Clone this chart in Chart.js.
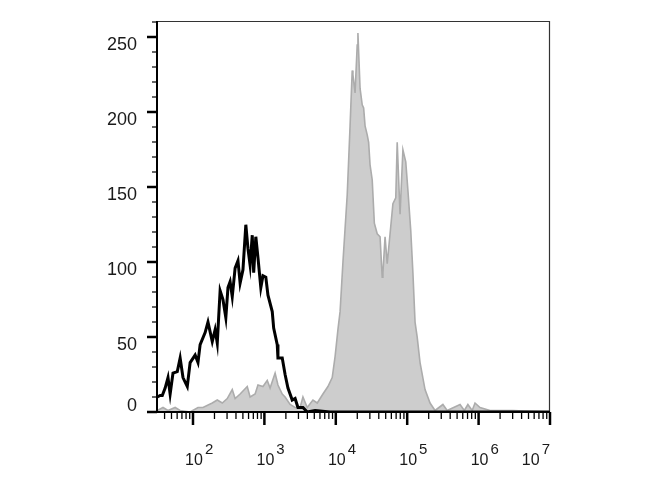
<!DOCTYPE html>
<html>
<head>
<meta charset="utf-8">
<script src="https://cdn.jsdelivr.net/npm/chart.js@4/dist/chart.umd.min.js"></script>
<style>
html,body{margin:0;padding:0;background:#fff}
#wrap{width:670px;height:500px;position:relative}
</style>
</head>
<body>
<div id="wrap"><canvas id="c"></canvas></div>
<script>
// Control (black line): x in log10(fluorescence intensity), y = count
const controlLogX = [1.50,1.54,1.57,1.61,1.65,1.68,1.72,1.78,1.82,1.86,1.92,1.96,2.03,2.07,2.10,2.17,2.21,2.27,2.31,2.34,2.38,2.42,2.46,2.49,2.52,2.55,2.59,2.63,2.66,2.70,2.74,2.77,2.80,2.83,2.85,2.88,2.91,2.95,2.98,3.02,3.05,3.11,3.13,3.18,3.19,3.25,3.29,3.33,3.39,3.43,3.47,3.54,3.60,3.71,3.92,7.00];
const controlCount = [10,11,11,16,23,12,26,27,36,23,17,33,38,33,45,53,60,47,55,46,81,75,63,83,87,77,96,101,86,95,125,109,98,118,93,117,103,83,91,90,78,67,56,45,36,36,25,16,8,9,3,3,0,1,0,0];

// Stained sample (grey filled histogram)
const stainedLogX = [1.50,1.51,1.58,1.65,1.75,1.82,1.96,2.07,2.14,2.27,2.34,2.41,2.48,2.55,2.59,2.66,2.76,2.80,2.87,2.91,2.98,3.04,3.08,3.15,3.19,3.25,3.29,3.36,3.43,3.50,3.54,3.60,3.68,3.74,3.82,3.89,3.95,3.99,4.03,4.06,4.10,4.16,4.20,4.23,4.24,4.27,4.30,4.31,4.34,4.37,4.39,4.41,4.44,4.46,4.48,4.51,4.54,4.58,4.62,4.65,4.66,4.69,4.72,4.76,4.80,4.84,4.86,4.90,4.94,4.98,5.01,5.05,5.08,5.11,5.14,5.18,5.25,5.32,5.39,5.50,5.56,5.74,5.80,5.85,5.91,5.95,6.02,6.16,6.48,7.00];
const stainedCount = [1,1,3,1,3,1,0,3,3,6,8,6,9,15,9,12,17,10,12,18,17,21,16,26,18,12,10,5,3,3,10,3,8,6,12,17,23,37,55,67,100,145,191,228,225,213,245,253,216,205,203,191,185,180,165,155,126,119,117,90,93,117,99,119,139,143,180,132,175,167,148,121,93,60,50,33,15,6,1,5,1,5,1,5,1,6,3,1,1,0];

// Axis ticks / labels
const xDecades = [2,3,4,5,6,7];
const xRange = [1.496, 7.0];
const yLabels = [0,50,100,150,200,250];
const yRange = [0, 261];

const toPts = (xs, ys) => xs.map((v, i) => ({x: v, y: ys[i]}));

const axesPlugin = {
  id: 'flowAxes',
  afterDraw(chart) {
    const {ctx, chartArea: a, scales: {x, y}} = chart;
    ctx.save();
    // thin frame top/right
    ctx.strokeStyle = '#333';
    ctx.lineWidth = 1.2;
    ctx.beginPath();
    ctx.moveTo(a.left, a.top + 0.5);
    ctx.lineTo(a.right - 0.5, a.top + 0.5);
    ctx.lineTo(a.right - 0.5, a.bottom);
    ctx.stroke();
    // main axes
    ctx.strokeStyle = '#000';
    ctx.lineWidth = 2;
    ctx.beginPath();
    ctx.moveTo(a.left, a.top);
    ctx.lineTo(a.left, a.bottom + 1);
    ctx.moveTo(a.left - 1, a.bottom);
    ctx.lineTo(a.right, a.bottom);
    ctx.stroke();

    // y ticks
    for (let v = 0; v <= 260; v += 10) {
      const py = Math.round(y.getPixelForValue(v));
      const major = v % 50 === 0;
      ctx.lineWidth = major ? 2.5 : 1.2;
      ctx.beginPath();
      ctx.moveTo(a.left - (major ? 10 : 5), py);
      ctx.lineTo(a.left, py);
      ctx.stroke();
    }
    // x ticks
    for (let n = 1; n <= 7; n++) {
      for (let k = 1; k <= 9; k++) {
        const v = n + Math.log10(k);
        if (v < xRange[0] || v > xRange[1] + 1e-9) continue;
        const px = x.getPixelForValue(v);
        const major = k === 1;
        ctx.lineWidth = major ? 2.5 : 1.3;
        ctx.beginPath();
        ctx.moveTo(px, a.bottom);
        ctx.lineTo(px, a.bottom + (major ? 13 : 7));
        ctx.stroke();
      }
    }

    // y labels
    ctx.fillStyle = '#1a1a1a';
    ctx.font = '18px "Liberation Sans", Arial, sans-serif';
    ctx.textAlign = 'right';
    ctx.textBaseline = 'middle';
    yLabels.forEach(v => {
      const py = y.getPixelForValue(v);
      const off = v === 0 ? -6 : 8;
      ctx.fillText(String(v), 137, py + off);
    });

    // x labels: 10 with superscript exponent
    xDecades.forEach(n => {
      const px = x.getPixelForValue(n);
      ctx.font = '16px "Liberation Sans", Arial, sans-serif';
      const base = '10';
      const wb = ctx.measureText(base).width;
      ctx.font = '15px "Liberation Sans", Arial, sans-serif';
      const we = ctx.measureText(String(n)).width;
      let left = px + 1 - wb / 2;
      const total = wb + 2 + we;
      if (left + total > a.right) left = a.right - total;
      ctx.textAlign = 'left';
      ctx.textBaseline = 'alphabetic';
      ctx.font = '16px "Liberation Sans", Arial, sans-serif';
      ctx.fillText(base, left, 465);
      ctx.font = '15px "Liberation Sans", Arial, sans-serif';
      ctx.fillText(String(n), left + wb + 2, 454);
    });
    ctx.restore();
  }
};

new Chart(document.getElementById('c'), {
  type: 'line',
  data: {
    datasets: [
      {
        label: 'Control',
        data: toPts(controlLogX, controlCount),
        borderColor: '#000',
        borderWidth: 3,
        fill: false,
        pointRadius: 0,
        tension: 0
      },
      {
        label: 'Stained',
        data: toPts(stainedLogX, stainedCount),
        borderColor: 'rgb(172,172,172)',
        backgroundColor: 'rgb(205,205,205)',
        borderWidth: 1.6,
        fill: 'origin',
        pointRadius: 0,
        tension: 0
      }
    ]
  },
  options: {
    responsive: true,
    maintainAspectRatio: false,
    animation: false,
    layout: {padding: {left: 157, right: 120, top: 21, bottom: 88}},
    plugins: {legend: {display: false}, tooltip: {enabled: false}},
    scales: {
      x: {type: 'linear', min: xRange[0], max: xRange[1], display: false},
      y: {min: yRange[0], max: yRange[1], display: false}
    }
  },
  plugins: [axesPlugin]
});
</script>
</body>
</html>
